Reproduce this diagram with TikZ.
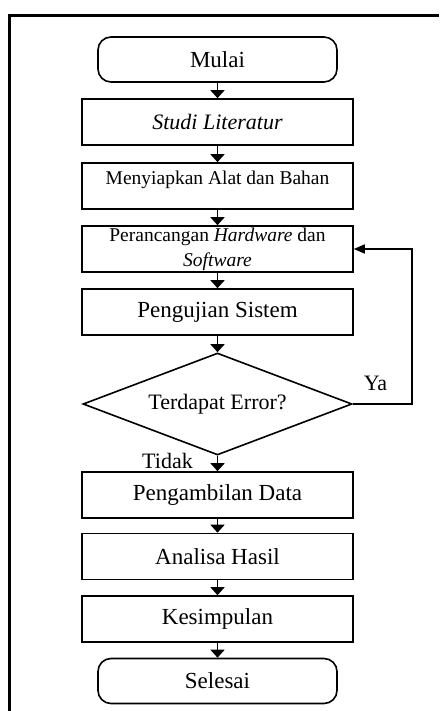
\documentclass[tikz,border=0pt]{standalone}
\usepackage{fontspec}
\setmainfont{Liberation Serif}
\usetikzlibrary{arrows.meta,shapes.geometric}
\begin{document}
\begin{tikzpicture}[x=1pt,y=-1pt,
  box/.style={draw,line width=1.6pt,minimum width=271pt,minimum height=46pt,inner sep=0pt,font=\fontsize{23}{27}\selectfont},
  term/.style={draw,line width=1.6pt,rounded corners=13pt,minimum width=239pt,minimum height=45pt,inner sep=0pt,font=\fontsize{23}{27}\selectfont},
  dec/.style={draw,diamond,line width=1.6pt,aspect=2.64,minimum width=269pt,minimum height=102pt,inner sep=0pt,font=\fontsize{22}{26}\selectfont},
  smalltxt/.style={font=\fontsize{19.5}{25}\selectfont,inner sep=0pt,align=center},
  lbl/.style={font=\fontsize{22}{26}\selectfont,inner sep=0pt},
  arr/.style={line width=1.6pt,-{Triangle[width=14pt,length=8pt]}},
  looparr/.style={line width=1.6pt,-{Triangle[width=9pt,length=11pt]}}]
\useasboundingbox (0,0) rectangle (439,711);
\draw[line width=3pt] (9,711) -- (9,16) -- (439,16);

\node[term] (mulai) at (217.5,59.5) {Mulai};
\node[box,font=\fontsize{22}{26}\selectfont] (studi) at (217.5,122) {\textit{Studi Literatur}};
\node[box] (siap) at (217.5,186) {};
\node[smalltxt] (siaptxt) at (217.5,180) {Menyiapkan Alat dan Bahan};
\node[box,font=\fontsize{19.5}{25}\selectfont,align=center] (ranc) at (217.5,249) {Perancangan \textit{Hardware} dan\\\textit{Software}};
\node[box] (uji) at (217.5,312) {Pengujian Sistem};
\node[dec] (err) at (217.5,404) {Terdapat Error?};
\node[box] (ambil) at (217.5,495) {Pengambilan Data};
\node[box] (anal) at (217.5,556.5) {Analisa Hasil};
\node[box] (simp) at (217.5,619) {Kesimpulan};
\node[term] (selesai) at (217.5,681) {Selesai};

\node[lbl] (ya) at (375.5,383) {Ya};
\node[lbl] (tidak) at (167.5,461) {Tidak};

\draw[arr] (mulai) -- (studi);
\draw[arr] (studi) -- (siap);
\draw[arr] (siap) -- (ranc);
\draw[arr] (ranc) -- (uji);
\draw[arr] (uji) -- (err);
\draw[arr] (err) -- (ambil);
\draw[arr] (ambil) -- (anal);
\draw[arr] (anal) -- (simp);
\draw[arr] (simp) -- (selesai);
\draw[looparr] (err.east) -- ++(59,0) |- (ranc.east);
\end{tikzpicture}
\end{document}
